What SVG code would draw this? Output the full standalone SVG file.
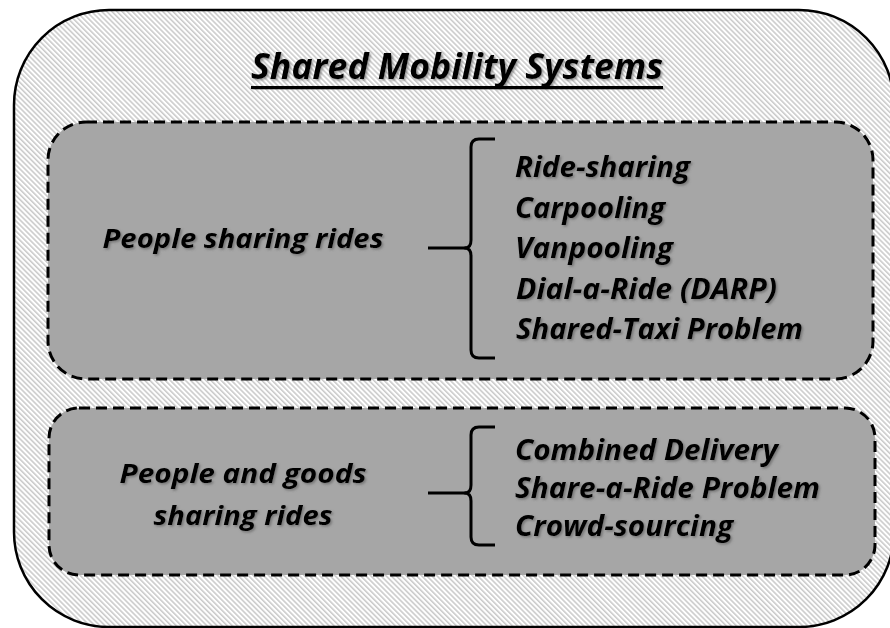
<svg xmlns="http://www.w3.org/2000/svg" width="890" height="628" viewBox="0 0 890 628">
  <defs>
    <pattern id="hatch" patternUnits="userSpaceOnUse" width="10" height="3.6" patternTransform="rotate(45)">
      <rect width="10" height="3.6" fill="#ffffff"/>
      <line x1="0" y1="1" x2="10" y2="1" stroke="#c4c4c4" stroke-width="1.4"/>
    </pattern>
    <filter id="shadow" x="-10%" y="-30%" width="120%" height="160%">
      <feDropShadow dx="1.5" dy="1.5" stdDeviation="1" flood-color="#555555" flood-opacity="0.6"/>
    </filter>
  </defs>
  <style>
    .outer { fill: url(#hatch); stroke: #000; stroke-width: 2.5; }
    .inner { fill: #a6a6a6; stroke: #000; stroke-width: 3; stroke-dasharray: 11 6; }
    .t { font-family: "Open Sans", Lato, sans-serif; font-weight: bold; font-style: italic; fill: #000; filter: url(#shadow); }
    .title { font-size: 35px; }
    .lbl { font-size: 27px; text-anchor: middle; }
    .item { font-size: 29px; }
    .brace { fill: none; stroke: #000; stroke-width: 3; stroke-linecap: butt; stroke-linejoin: round; }
  </style>

  <g id="outer">
    <rect class="outer" x="14" y="10" width="880" height="617" rx="95" ry="95"/>
  </g>

  <g id="title">
    <text class="t title" x="251" y="79" textLength="412" lengthAdjust="spacingAndGlyphs">Shared Mobility Systems</text>
    <rect x="251" y="86" width="412" height="3" fill="#000" filter="url(#shadow)"/>
  </g>

  <g id="people">
    <rect class="inner" x="48" y="122" width="825" height="257" rx="38" ry="38"/>
    <text class="t lbl" x="243" y="248" textLength="281" lengthAdjust="spacingAndGlyphs">People sharing rides</text>
    <text class="t item" x="515" y="177" textLength="175" lengthAdjust="spacingAndGlyphs">Ride-sharing</text>
    <text class="t item" x="515" y="218" textLength="150" lengthAdjust="spacingAndGlyphs">Carpooling</text>
    <text class="t item" x="515" y="258" textLength="158" lengthAdjust="spacingAndGlyphs">Vanpooling</text>
    <text class="t item" x="516" y="299" textLength="261" lengthAdjust="spacingAndGlyphs">Dial-a-Ride (DARP)</text>
    <text class="t item" x="516" y="339" textLength="287" lengthAdjust="spacingAndGlyphs">Shared-Taxi Problem</text>
  </g>

  <g id="goods">
    <rect class="inner" x="49" y="408" width="826" height="167" rx="30" ry="30"/>
    <text class="t lbl" x="243" y="483" textLength="247" lengthAdjust="spacingAndGlyphs">People and goods</text>
    <text class="t lbl" x="243" y="525" textLength="179" lengthAdjust="spacingAndGlyphs">sharing rides</text>
    <text class="t item" x="515" y="460" textLength="263" lengthAdjust="spacingAndGlyphs">Combined Delivery</text>
    <text class="t item" x="515" y="498" textLength="305" lengthAdjust="spacingAndGlyphs">Share-a-Ride Problem</text>
    <text class="t item" x="515" y="536" textLength="218" lengthAdjust="spacingAndGlyphs">Crowd-sourcing</text>
  </g>

  <g id="connectors">
    <path class="brace" d="M495,139 H479 Q471,139 471,147 V240 Q471,248 465,248 Q471,248 471,256 V350 Q471,358 479,358 H495"/>
    <line class="brace" x1="428" y1="248" x2="466" y2="248"/>
    <path class="brace" d="M495,427 H479 Q471,427 471,435 V485 Q471,493 465,493 Q471,493 471,501 V537 Q471,545 479,545 H495"/>
    <line class="brace" x1="428" y1="493" x2="466" y2="493"/>
  </g>
</svg>
